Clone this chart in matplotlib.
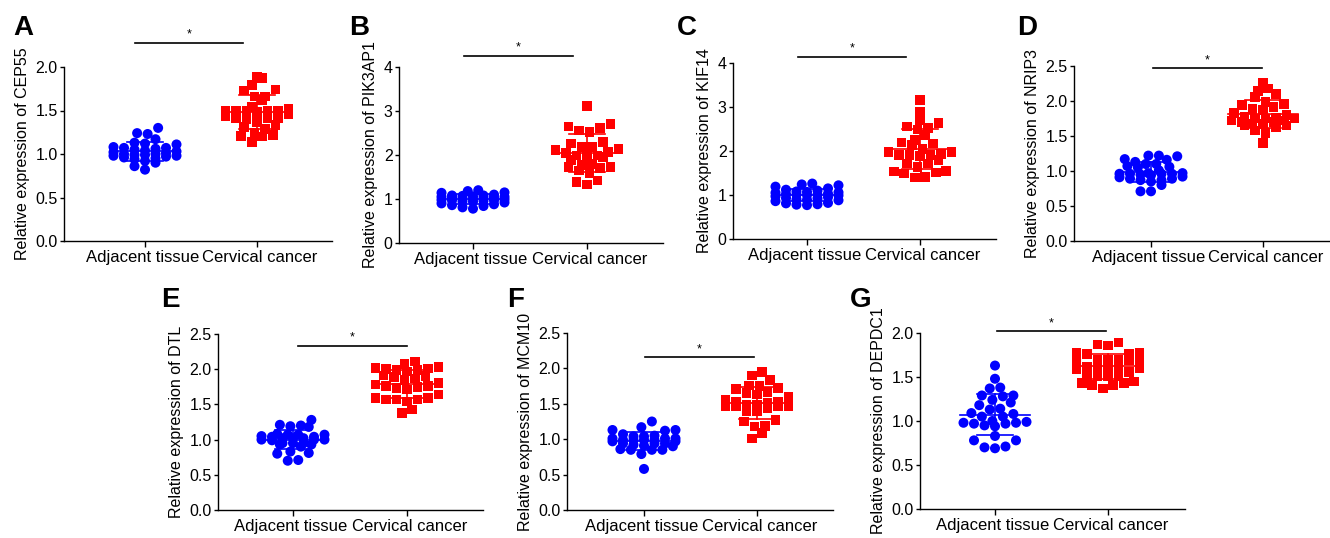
import numpy as np
import matplotlib.pyplot as plt
import matplotlib.transforms as mtransforms

plt.rcParams['font.family'] = ['Liberation Sans', 'DejaVu Sans']

W, H = 1330, 538

groups = ['Adjacent tissue', 'Cervical cancer']
letters = ['A', 'B', 'C', 'D', 'E', 'F', 'G']
genes = ['CEP55', 'PIK3AP1', 'KIF14', 'NRIP3', 'DTL', 'MCM10', 'DEPDC1']

# values (relative expression, one value per sample)
cep55_adj = [1.30, 1.24, 1.23, 1.17, 1.13, 1.12, 1.11, 1.08, 1.07, 1.07, 1.06, 1.05,
             1.04, 1.03, 1.02, 1.01, 1.00, 1.00, 0.99, 0.99, 0.98, 0.98, 0.97, 0.96,
             0.95, 0.94, 0.92, 0.90, 0.86, 0.82]
cep55_cc = [1.89, 1.87, 1.79, 1.74, 1.73, 1.66, 1.66, 1.62, 1.54, 1.46, 1.50, 1.52,
            1.50, 1.50, 1.48, 1.50, 1.50, 1.37, 1.41, 1.43, 1.40, 1.41, 1.41, 1.33,
            1.31, 1.29, 1.21, 1.24, 1.20, 1.22, 1.14]
pik3ap1_adj = [1.20, 1.18, 1.15, 1.14, 1.10, 1.08, 1.08, 1.07, 1.06, 1.05, 1.05, 1.04,
               1.03, 1.02, 1.01, 1.00, 0.99, 0.98, 0.97, 0.97, 0.96, 0.95, 0.94, 0.92,
               0.90, 0.88, 0.86, 0.84, 0.81, 0.78]
pik3ap1_cc = [3.11, 2.70, 2.65, 2.62, 2.56, 2.52, 2.30, 2.26, 2.14, 2.18, 2.11, 2.18,
              2.05, 2.07, 1.97, 1.95, 1.99, 1.99, 1.88, 1.80, 1.77, 1.73, 1.70, 1.73,
              1.65, 1.58, 1.42, 1.39, 1.33]
kif14_adj = [1.26, 1.24, 1.22, 1.19, 1.15, 1.12, 1.10, 1.08, 1.07, 1.06, 1.05, 1.03,
             1.02, 1.01, 1.01, 1.00, 0.99, 0.97, 0.95, 0.93, 0.92, 0.90, 0.89, 0.88,
             0.86, 0.82, 0.81, 0.79, 0.78, 0.77]
kif14_cc = [3.16, 2.90, 2.69, 2.63, 2.52, 2.56, 2.49, 2.37, 2.25, 2.19, 2.14, 2.17,
            1.98, 2.04, 1.98, 1.91, 1.93, 1.89, 1.91, 1.91, 1.79, 1.72, 1.72, 1.64,
            1.55, 1.53, 1.49, 1.51, 1.41, 1.40]
nrip3_adj = [1.21, 1.22, 1.22, 1.17, 1.13, 1.16, 1.07, 1.10, 1.10, 1.05, 1.06, 1.01,
             0.96, 0.92, 0.94, 0.96, 0.97, 0.97, 0.96, 0.96, 0.95, 0.85, 0.87, 0.89,
             0.87, 0.89, 0.80, 0.71, 0.71, 0.91]
nrip3_cc = [2.26, 2.18, 2.14, 2.10, 2.06, 1.99, 1.96, 1.94, 1.87, 1.80, 1.70, 1.75,
            1.77, 1.75, 1.75, 1.72, 1.76, 1.70, 1.67, 1.65, 1.68, 1.65, 1.63, 1.58,
            1.54, 1.40, 1.91, 1.89, 1.83, 1.72]
dtl_adj = [1.28, 1.21, 1.20, 1.19, 1.18, 1.04, 1.07, 1.00, 1.08, 1.02, 1.05, 1.07,
           1.07, 1.04, 1.02, 1.00, 0.93, 0.95, 0.93, 0.95, 0.83, 0.81, 0.80, 0.70,
           0.71, 1.02, 1.00, 0.99, 0.95, 0.90]
dtl_cc = [2.11, 2.07, 1.99, 2.02, 2.03, 1.99, 2.01, 2.00, 1.91, 1.97, 1.85, 1.87,
          1.89, 1.73, 1.76, 1.75, 1.80, 1.78, 1.76, 1.59, 1.59, 1.54, 1.57, 1.57,
          1.57, 1.64, 1.38, 1.43, 1.71, 1.90]
mcm10_adj = [1.25, 1.17, 1.13, 1.13, 1.12, 1.04, 1.07, 1.05, 0.99, 0.92, 0.90, 0.94,
             1.01, 0.97, 0.97, 0.94, 0.91, 0.85, 0.85, 0.85, 0.86, 0.79, 0.58, 0.99,
             0.99, 1.01, 0.99, 1.04, 0.94, 1.01]
mcm10_cc = [1.95, 1.90, 1.84, 1.76, 1.75, 1.67, 1.65, 1.63, 1.71, 1.72, 1.60, 1.56,
            1.44, 1.46, 1.46, 1.49, 1.53, 1.51, 1.49, 1.47, 1.47, 1.39, 1.39, 1.27,
            1.25, 1.19, 1.18, 1.09, 1.01, 1.53]
depdc1_adj = [1.63, 1.48, 1.38, 1.37, 1.29, 1.29, 1.24, 1.28, 1.18, 1.21, 1.14, 1.13,
              1.09, 1.05, 1.08, 0.95, 0.98, 0.98, 0.99, 0.94, 0.97, 1.00, 0.97, 1.05,
              0.78, 0.78, 0.83, 0.69, 0.70, 0.71]
depdc1_cc = [1.89, 1.87, 1.86, 1.76, 1.77, 1.78, 1.76, 1.70, 1.69, 1.69, 1.70, 1.60,
             1.60, 1.60, 1.62, 1.60, 1.59, 1.51, 1.51, 1.52, 1.51, 1.41, 1.43, 1.43,
             1.45, 1.37, 1.41, 1.56, 1.69, 1.70]

adjacent = [cep55_adj, pik3ap1_adj, kif14_adj, nrip3_adj, dtl_adj, mcm10_adj, depdc1_adj]
cancer = [cep55_cc, pik3ap1_cc, kif14_cc, nrip3_cc, dtl_cc, mcm10_cc, depdc1_cc]
y_max = [2.0, 4, 4, 2.5, 2.5, 2.5, 2.0]
y_step = [0.5, 1, 1, 0.5, 0.5, 0.5, 0.5]
tick_fmt = ['%.1f', '%d', '%d', '%.1f', '%.1f', '%.1f', '%.1f']
# significance bar: height and span (in data units)
sig_y = [2.28, 4.25, 4.14, 2.47, 2.33, 2.16, 2.02]
sig_x = [(-0.09, 0.875), (-0.08, 0.88), (-0.08, 0.88), (0.02, 0.99),
         (0.04, 1.0), (0.01, 0.97), (0.02, 0.98)]

# layout in pixels: left spine, top, bottom, right end, tick 0, tick 1
boxes = [(64, 67, 241, 332, 145, 257),
         (399, 67, 243, 663, 473, 587),
         (733, 63, 239, 996, 807, 920),
         (1074, 66, 241, 1340, 1151, 1263),
         (218, 334, 510, 483, 293, 407),
         (567, 333, 510, 833, 644, 757),
         (920, 333, 509, 1185, 995, 1108)]
letter_pos = [(23, 35), (359, 35), (687, 35), (1027, 35),
              (170, 307), (516, 307), (861, 307)]

BLUE = '#0000ff'
RED = '#ff0000'


def swarm_offsets(vals, px_x, px_y, dx_px=10.5, row_px=8.0, max_row=7):
    """Prism-like row layout: points close in y share a row and get spread in x"""
    vals = np.asarray(vals, dtype=float)
    order = np.argsort(vals)
    rows, row = [], [order[0]]
    for i in order[1:]:
        if (vals[i] - vals[row[0]]) * px_y > row_px or len(row) >= max_row:
            rows.append(row)
            row = [i]
        else:
            row.append(i)
    rows.append(row)
    offs = np.zeros(len(vals))
    for j, r in enumerate(rows):
        n = len(r)
        pos = (np.arange(n) - (n - 1) / 2) * dx_px / px_x
        # stagger alternate rows a little so stacked rows don't line up exactly
        if n < max_row and j % 2 == 1 and n > 1:
            pos = pos + 0.5 * dx_px / px_x * (1 if j % 4 == 1 else -1) * 0.5
        pos = pos[np.argsort(np.abs(pos), kind='stable')]
        for k, idx in enumerate(r):
            offs[idx] = pos[k]
    return offs


fig = plt.figure(figsize=(W / 100, H / 100), dpi=100)

for i in range(7):
    l, t, b, r, t0, t1 = boxes[i]
    ax = fig.add_axes([l / W, 1 - b / H, (r - l) / W, (b - t) / H])
    px_x = t1 - t0
    px_y = (b - t) / y_max[i]
    ax.set_xlim((l - t0) / px_x, (r - t0) / px_x)
    ax.set_ylim(0, y_max[i])

    for k, (vals, col, mk, sz) in enumerate([(adjacent[i], BLUE, 'o', 52),
                                             (cancer[i], RED, 's', 48)]):
        vals = np.asarray(vals)
        xs = k + swarm_offsets(vals, px_x, px_y)
        ax.scatter(xs, vals, s=sz, marker=mk, color=col, edgecolors='none',
                   zorder=2, clip_on=False)
        m = vals.mean()
        sd = vals.std(ddof=1)
        ax.plot([k - 0.31, k + 0.31], [m, m], color=col, lw=1.2, zorder=3)
        ax.plot([k - 0.16, k + 0.16], [m + sd, m + sd], color=col, lw=1.2, zorder=3)
        ax.plot([k - 0.16, k + 0.16], [m - sd, m - sd], color=col, lw=1.2, zorder=3)
        ax.plot([k, k], [m - sd, m + sd], color=col, lw=1.2, zorder=3)

    x0, x1 = sig_x[i]
    ax.plot([x0, x1], [sig_y[i], sig_y[i]], color='black', lw=1.2, clip_on=False)
    ax.annotate('*', xy=((x0 + x1) / 2, sig_y[i]), xytext=(0, 1.5),
                textcoords='offset points', ha='center', va='bottom',
                fontsize=9, annotation_clip=False)

    yt = np.arange(0, y_max[i] + 1e-9, y_step[i])
    ax.set_yticks(yt)
    ax.set_yticklabels([tick_fmt[i] % v for v in yt])
    ax.set_xticks([0, 1])
    ax.set_xticklabels(groups)
    ax.tick_params(axis='y', direction='out', length=3, width=1.0,
                   labelsize=11.5, colors='black', pad=1.5)
    ax.tick_params(axis='x', direction='out', length=4.5, width=1.0,
                   labelsize=12, colors='black', pad=2)
    # nudge the two group labels apart a little, as in the original
    for lab, dx in zip(ax.get_xticklabels(), (-2.5, 3.0)):
        lab.set_transform(lab.get_transform() +
                          mtransforms.ScaledTranslation(dx / 100, 0, fig.dpi_scale_trans))
    ax.spines['top'].set_visible(False)
    ax.spines['right'].set_visible(False)
    for s in ['left', 'bottom']:
        ax.spines[s].set_linewidth(1.0)
    ax.set_ylabel('Relative expression of ' + genes[i], fontsize=11.5, labelpad=4)
    ax.patch.set_alpha(0)

    lx, ly = letter_pos[i]
    fig.text(lx / W, 1 - ly / H, letters[i], fontsize=20, fontweight='bold',
             ha='center', va='baseline')

fig.savefig('out.png', dpi=100)
